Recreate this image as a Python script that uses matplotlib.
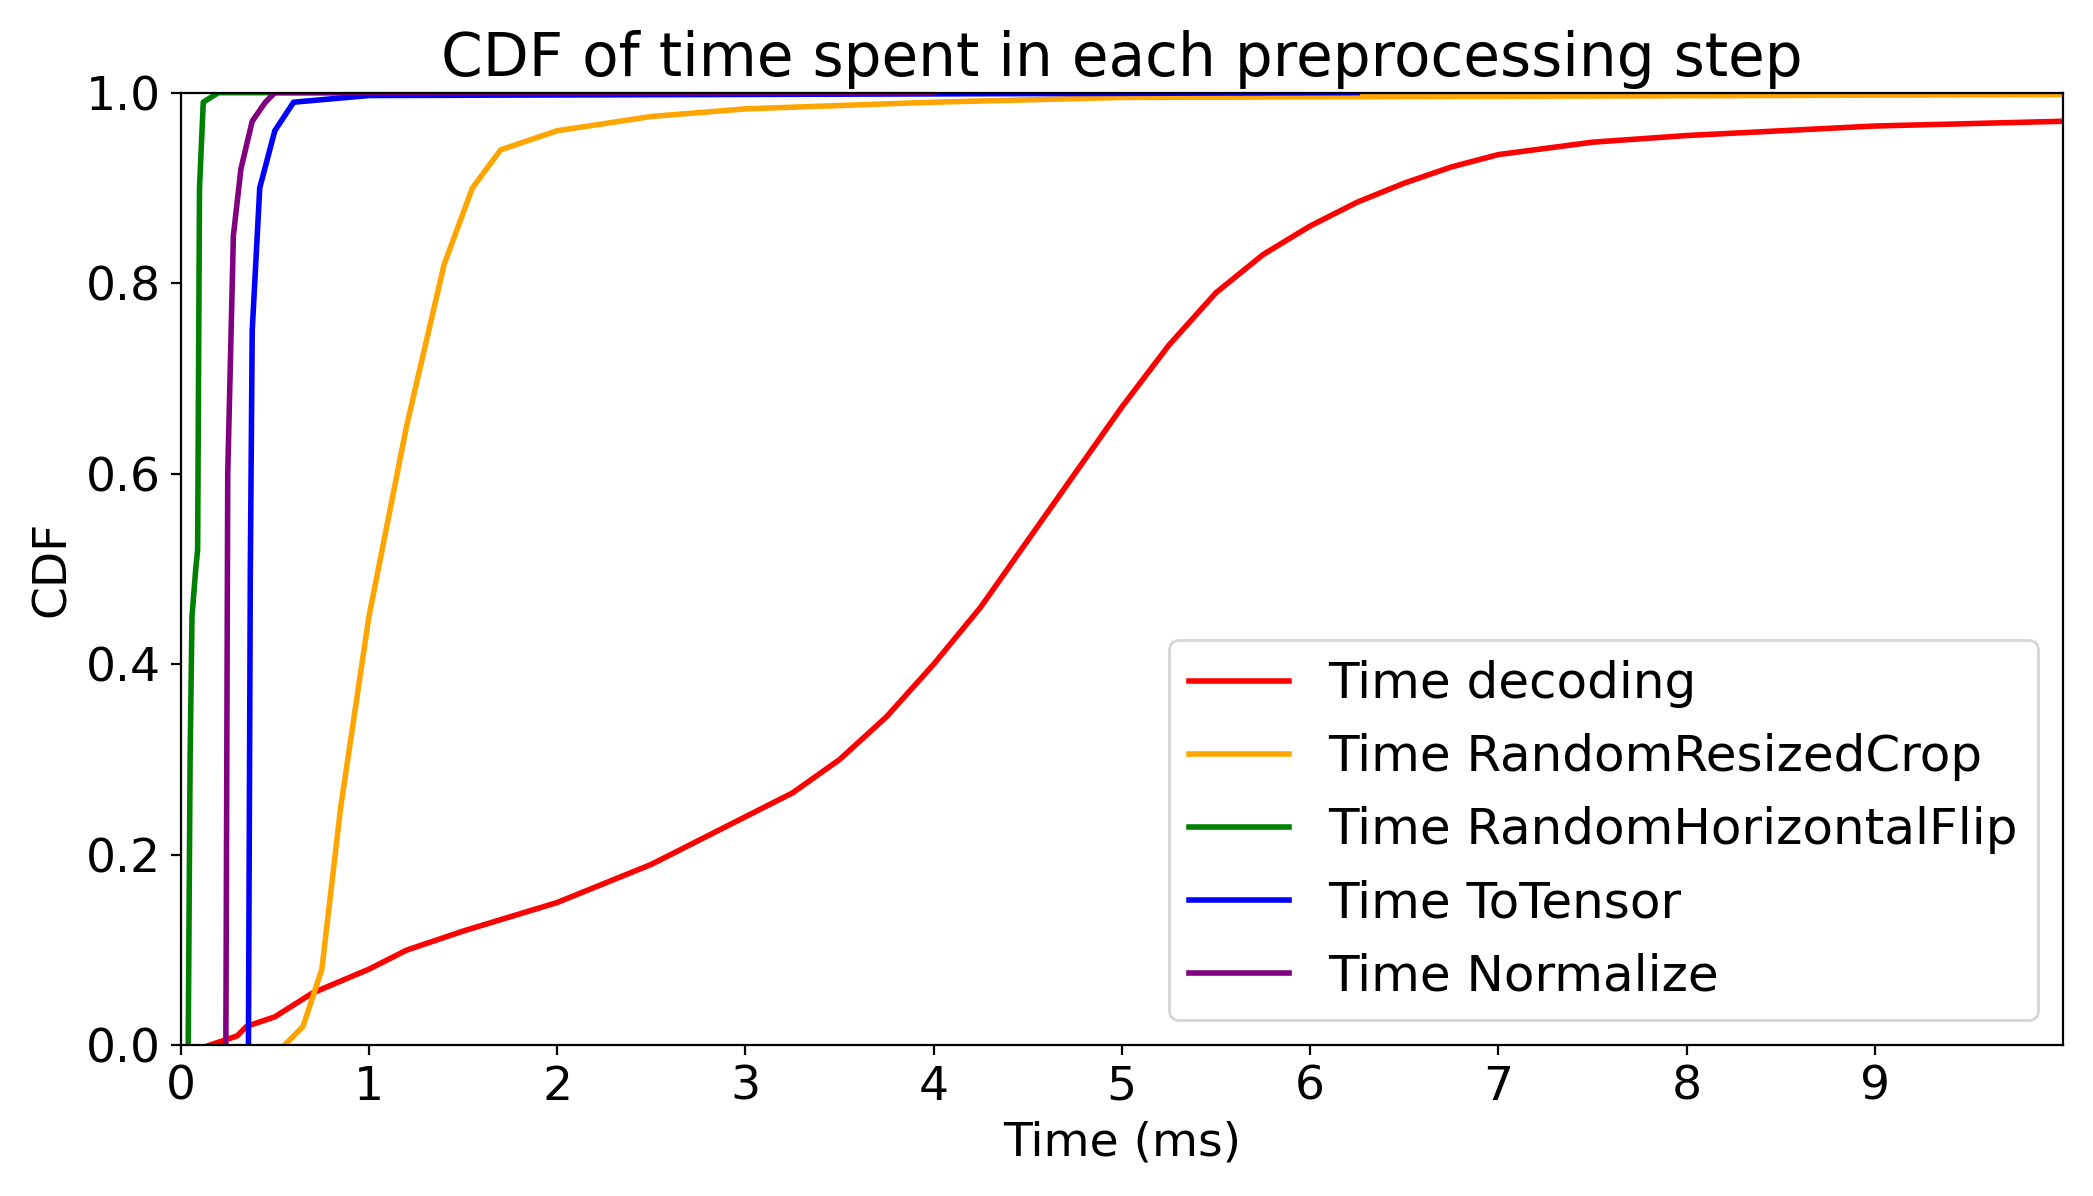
import matplotlib
matplotlib.use("Agg")
import matplotlib.pyplot as plt

# CDF points (time in ms, cumulative fraction)
dec_x = [0.15, 0.3, 0.35, 0.5, 0.7, 1.0, 1.2, 1.5, 2.0, 2.5, 3.0, 3.25, 3.5, 3.75, 4.0, 4.25, 4.5, 4.75, 5.0, 5.25, 5.5, 5.75, 6.0, 6.25, 6.5, 6.75, 7.0, 7.5, 8.0, 8.5, 9.0, 10.0]
dec_y = [0.0, 0.01, 0.02, 0.03, 0.055, 0.08, 0.1, 0.12, 0.15, 0.19, 0.24, 0.265, 0.3, 0.345, 0.4, 0.46, 0.53, 0.6, 0.67, 0.735, 0.79, 0.83, 0.86, 0.885, 0.905, 0.922, 0.935, 0.948, 0.955, 0.96, 0.965, 0.97]
crop_x = [0.55, 0.65, 0.75, 0.85, 1.0, 1.2, 1.4, 1.55, 1.7, 2.0, 2.5, 3.0, 4.0, 5.0, 10.0]
crop_y = [0.0, 0.02, 0.08, 0.25, 0.45, 0.65, 0.82, 0.9, 0.94, 0.96, 0.975, 0.983, 0.99, 0.995, 0.998]
flip_x = [0.04, 0.05, 0.06, 0.08, 0.09, 0.1, 0.12, 0.2, 1.5]
flip_y = [0.0, 0.3, 0.45, 0.5, 0.52, 0.9, 0.99, 1.0, 1.0]
tens_x = [0.36, 0.37, 0.38, 0.42, 0.5, 0.6, 1.0, 6.25]
tens_y = [0.0, 0.5, 0.75, 0.9, 0.96, 0.99, 0.997, 1.0]
norm_x = [0.24, 0.25, 0.28, 0.32, 0.38, 0.45, 0.5, 4.0]
norm_y = [0.0, 0.6, 0.85, 0.92, 0.97, 0.99, 1.0, 1.0]

fig, ax = plt.subplots(figsize=(2093 / 200, 1196 / 200), dpi=200)
ax.plot(dec_x, dec_y, color="red", lw=2, label="Time decoding")
ax.plot(crop_x, crop_y, color="orange", lw=2, label="Time RandomResizedCrop")
ax.plot(flip_x, flip_y, color="green", lw=2, label="Time RandomHorizontalFlip")
ax.plot(tens_x, tens_y, color="blue", lw=2, label="Time ToTensor")
ax.plot(norm_x, norm_y, color="purple", lw=2, label="Time Normalize")

ax.set_xlim(0, 10)
ax.set_ylim(0, 1)
ax.set_xticks(range(10))
ax.tick_params(labelsize=17)
ax.set_xlabel("Time (ms)", fontsize=17)
ax.set_ylabel("CDF", fontsize=17)
ax.set_title("CDF of time spent in each preprocessing step", fontsize=21.5)
ax.legend(loc="lower right", fontsize=18)
fig.tight_layout()
fig.savefig("out.png", dpi=200)
